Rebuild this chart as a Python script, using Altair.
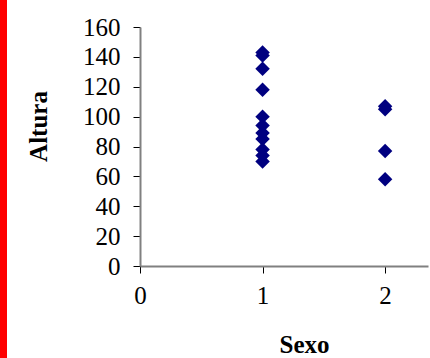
import altair as alt
import pandas as pd

# Heights (Altura) grouped by sex code (Sexo)
sexo = [1, 1, 1, 1, 1, 1, 1, 1, 1, 1, 1, 2, 2, 2, 2]
altura = [143, 141, 132, 118, 100, 94, 89, 85, 78, 74, 70, 107, 105, 77, 58]

x_ticks = [0, 1, 2]
y_ticks = [0, 20, 40, 60, 80, 100, 120, 140, 160]

df = pd.DataFrame({"Sexo": sexo, "Altura": altura})

FONT = "Liberation Serif"

points = alt.Chart(df).mark_point(
    shape="diamond", filled=True, size=210, color="#000080", opacity=1
).encode(
    x=alt.X(
        "Sexo:Q",
        scale=alt.Scale(domain=[0, 2.35], nice=False, zero=False),
        axis=alt.Axis(
            values=x_ticks, format="d", title="Sexo", grid=False,
            domainColor="#808080", domainWidth=2,
            tickColor="#000000", tickWidth=1, tickSize=7,
            labelFont=FONT, labelFontSize=25, labelColor="#000000",
            labelPadding=10, labelFlush=False,
            titleFont=FONT, titleFontSize=25, titleFontWeight="bold",
            titleColor="#000000", titleX=164, titleY=86,
            titleBaseline="alphabetic", titleAlign="center",
        ),
    ),
    y=alt.Y(
        "Altura:Q",
        scale=alt.Scale(domain=[0, 160], nice=False),
        axis=alt.Axis(
            values=y_ticks, title="Altura", grid=False,
            domainColor="#808080", domainWidth=2,
            tickColor="#000000", tickWidth=1, tickSize=7,
            labelFont=FONT, labelFontSize=25, labelColor="#000000",
            labelPadding=13, labelFlush=False,
            titleFont=FONT, titleFontSize=25, titleFontWeight="bold",
            titleColor="#000000", titleX=-102, titleY=99, titleAngle=-90,
            titleBaseline="middle", titleAlign="center",
        ),
    ),
)

# Red strip along the left edge of the figure
strip = alt.Chart(df).mark_rule(color="#ff0000", strokeWidth=7).encode(
    x=alt.value(-136.5), y=alt.value(-40), y2=alt.value(400)
)

chart = alt.layer(strip, points).properties(
    width=288,
    height=239,
    autosize=alt.AutoSizeParams(type="none"),
    padding={"left": 140, "top": 27, "right": 2, "bottom": 92},
    background="#ffffff",
).configure_view(stroke=None)

chart.save("out.html", embed_options={"renderer": "svg", "actions": False})
